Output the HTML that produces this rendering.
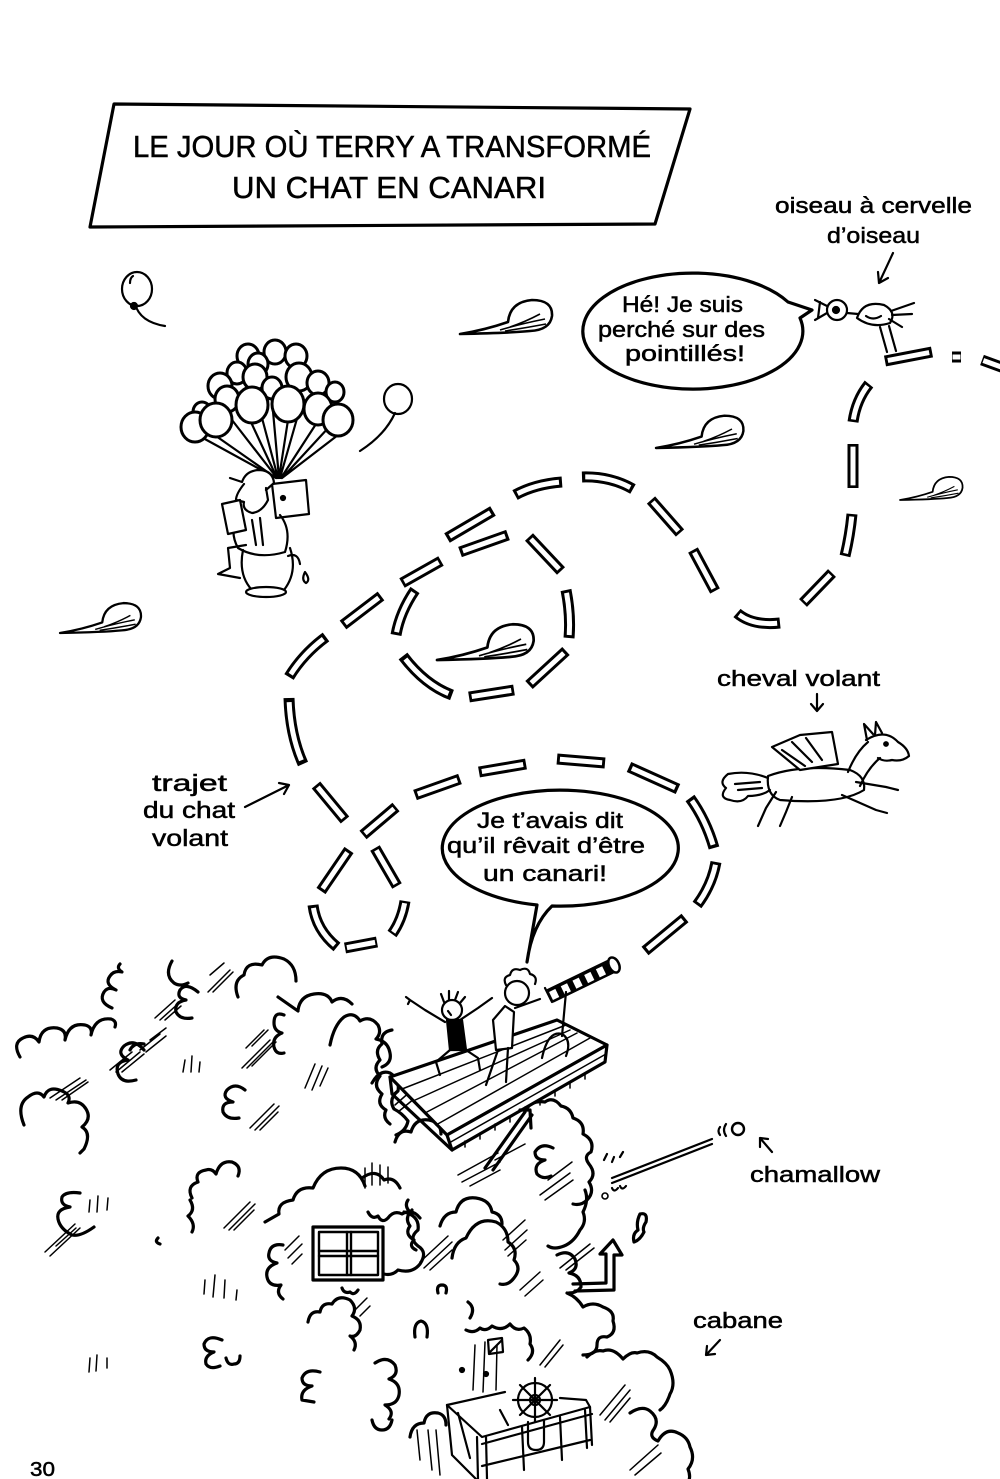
<!DOCTYPE html>
<html><head><meta charset="utf-8"><style>
html,body{margin:0;padding:0;background:#fff;}
svg{display:block;}
.t{fill:none;stroke:#000;stroke-width:3.2;stroke-linecap:round;stroke-linejoin:round}
.tf{fill:#fff;stroke:#000;stroke-width:3;stroke-linecap:round;stroke-linejoin:round}
.h{fill:none;stroke:#000;stroke-width:1.5;stroke-linecap:round}
.l{fill:none;stroke:#000;stroke-width:2.2;stroke-linecap:round;stroke-linejoin:round}
text{font-family:"Liberation Sans",sans-serif;fill:#000;stroke:#000;stroke-width:0.5;}
</style></head><body>
<svg width="1000" height="1479" viewBox="0 0 1000 1479" xmlns="http://www.w3.org/2000/svg">
<rect width="1000" height="1479" fill="#fff"/>
<defs>
<g id="dashes">
<path pathLength="100" d="M885,361 L932,352"/>
<path pathLength="100" d="M952,357 L961,357"/>
<path pathLength="100" d="M982,360 L1004,368"/>
<path pathLength="100" d="M869,384 Q856,400 853,422"/>
<path pathLength="100" d="M853,444 L853,488"/>
<path pathLength="100" d="M852,514 Q850,535 845,556"/>
<path pathLength="100" d="M832,573 L803,603"/>
<path pathLength="100" d="M737,613 Q752,626 780,623"/>
<path pathLength="100" d="M693,550 L715,591"/>
<path pathLength="100" d="M651,500 L680,533"/>
<path pathLength="100" d="M582,477 Q610,476 633,489"/>
<path pathLength="100" d="M515,495 Q535,484 562,482"/>
<path pathLength="100" d="M447,538 L493,511"/>
<path pathLength="100" d="M402,583 L441,561"/>
<path pathLength="100" d="M343,625 L381,596"/>
<path pathLength="100" d="M289,677 Q303,654 326,637"/>
<path pathLength="100" d="M289,698 Q290,735 303,764"/>
<path pathLength="100" d="M316,785 L345,820"/>
<path pathLength="100" d="M363,835 L396,807"/>
<path pathLength="100" d="M415,795 L460,779"/>
<path pathLength="100" d="M479,772 L526,764"/>
<path pathLength="100" d="M557,759 L605,763"/>
<path pathLength="100" d="M629,767 L678,789"/>
<path pathLength="100" d="M690,798 Q706,820 714,848"/>
<path pathLength="100" d="M716,862 Q712,885 697,905"/>
<path pathLength="100" d="M685,918 L645,951"/>
<path pathLength="100" d="M349,850 L321,891"/>
<path pathLength="100" d="M375,848 L397,886"/>
<path pathLength="100" d="M313,905 Q316,930 337,947"/>
<path pathLength="100" d="M345,948 L377,942"/>
<path pathLength="100" d="M405,901 Q402,920 392,934"/>
<path pathLength="100" d="M460,552 L508,535"/>
<path pathLength="100" d="M529,537 L561,571"/>
<path pathLength="100" d="M566,590 Q571,615 569,638"/>
<path pathLength="100" d="M566,651 L529,685"/>
<path pathLength="100" d="M469,697 L514,690"/>
<path pathLength="100" d="M403,656 Q425,685 452,695"/>
<path pathLength="100" d="M415,590 Q400,612 396,635"/>
</g>
<g id="feather">
<path d="M0,0 Q25,-4 48,-12 Q50,-32 72,-34 Q93,-34 92,-18 Q90,-4 70,-3 Q50,-1 0,0 Z" fill="#fff" stroke="#000" stroke-width="2.6" stroke-linejoin="round"/>
<path d="M40,-4 Q60,-10 85,-15 M45,-3 Q65,-6 86,-10 M50,-7 Q65,-12 80,-20" fill="none" stroke="#000" stroke-width="1.6"/>
</g>
</defs>

<!-- Title box -->
<path class="t" d="M114,104 L690,109 L655,224 L90,227 Z" stroke-width="3"/>
<text x="133" y="157" font-size="31" textLength="518" lengthAdjust="spacingAndGlyphs">LE JOUR OÙ TERRY A TRANSFORMÉ</text>
<text x="232" y="198" font-size="31" textLength="314" lengthAdjust="spacingAndGlyphs">UN CHAT EN CANARI</text>

<!-- labels -->
<text x="775" y="213" font-size="22" textLength="197" lengthAdjust="spacingAndGlyphs">oiseau à cervelle</text>
<text x="827" y="243" font-size="22" textLength="93" lengthAdjust="spacingAndGlyphs">d’oiseau</text>
<path class="l" d="M893,253 L879,283 M878,272 L879,283 L888,278"/>

<!-- bubble 1 -->
<path class="t" stroke-width="2.8" d="M788,302 A110,58 0 1,0 800,318 L812,310 Z" fill="#fff"/>
<text x="622" y="312" font-size="22" textLength="121" lengthAdjust="spacingAndGlyphs">Hé! Je suis</text>
<text x="598" y="337" font-size="22" textLength="167" lengthAdjust="spacingAndGlyphs">perché sur des</text>
<text x="625" y="361" font-size="22" textLength="120" lengthAdjust="spacingAndGlyphs">pointillés!</text>

<!-- bird -->
<g class="l" stroke-width="2.8">
<circle cx="837" cy="310" r="10" fill="#fff"/>
<circle cx="836" cy="310" r="3" fill="#000"/>
<path d="M827,306 L815,300 M827,313 L815,320 M820,302 L818,318"/>
<path d="M847,313 L858,314"/>
<path d="M857,318 Q863,300 884,305 Q897,312 890,323 Q872,329 857,318 Z" fill="#fff"/>
<path d="M866,316 Q873,321 881,316"/>
<path d="M891,311 L914,303 M892,315 L912,314 M889,319 L902,327"/>
<path d="M880,327 L887,352 M889,326 L896,351"/>
</g>

<!-- dashed trajectory -->
<use href="#dashes" fill="none" stroke="#000" stroke-width="11"/>
<use href="#dashes" fill="none" stroke="#fff" stroke-width="5" stroke-dasharray="0 6 88 100"/>

<!-- feathers -->
<use href="#feather" transform="translate(460,334)"/>
<use href="#feather" transform="translate(656,448) scale(0.95)"/>
<use href="#feather" transform="translate(900,500) scale(0.68)"/>
<use href="#feather" transform="translate(60,633) scale(0.88)"/>
<use href="#feather" transform="translate(437,660) scale(1.05)"/>

<!-- lone balloons -->
<g class="l" stroke-width="2.6">
<ellipse cx="137" cy="289" rx="15" ry="17" fill="#fff"/>
<path d="M130,283 Q130,278 133,276"/>
<path d="M135,304 Q140,322 165,326"/>
<circle cx="134" cy="306" r="3" fill="#000"/>
<ellipse cx="398" cy="399" rx="14" ry="15" fill="#fff"/>
<path d="M395,413 Q385,435 360,451"/>
</g>

<!-- balloon man -->
<g class="l" stroke-width="2">
<path d="M203,438 L276,478 M216,436 L276,478 M232,420 L277,478 M250,420 L277,478 M262,418 L278,478 M272,400 L279,478 M288,420 L279,478 M298,415 L280,478 M316,424 L281,478 M330,426 L282,478 M338,435 L282,478"/>
</g>
<g class="tf" stroke-width="2.6">
<ellipse cx="248" cy="356" rx="11" ry="12"/><ellipse cx="275" cy="352" rx="11" ry="12"/><ellipse cx="296" cy="356" rx="11" ry="12"/><ellipse cx="258" cy="364" rx="10" ry="11"/>
<ellipse cx="237" cy="373" rx="10" ry="11"/><ellipse cx="220" cy="386" rx="12" ry="13"/><ellipse cx="255" cy="377" rx="12" ry="13"/><ellipse cx="299" cy="377" rx="13" ry="14"/>
<ellipse cx="318" cy="383" rx="11" ry="12"/><ellipse cx="335" cy="392" rx="9" ry="10"/><ellipse cx="272" cy="388" rx="10" ry="11"/><ellipse cx="227" cy="399" rx="12" ry="13"/><ellipse cx="202" cy="412" rx="9" ry="10"/>
<ellipse cx="195" cy="427" rx="14" ry="15"/><ellipse cx="216" cy="420" rx="16" ry="17"/><ellipse cx="252" cy="405" rx="16" ry="18"/><ellipse cx="288" cy="404" rx="16" ry="18"/>
<ellipse cx="318" cy="409" rx="14" ry="16"/><ellipse cx="338" cy="420" rx="15" ry="16"/>
</g>
<g class="l" stroke-width="2.6">
<path d="M272,484 L306,480 L309,514 L276,518 Z" fill="#fff"/>
<circle cx="283" cy="498" r="2" fill="#000"/>
<path d="M230,478 L242,482 Q246,470 260,470 Q273,471 274,483 L266,490" fill="#fff"/>
<path d="M244,484 Q236,494 236,500 L244,502 Q242,510 252,513 Q262,512 268,500 L266,488"/>
<path d="M240,512 Q228,530 238,548 Q258,560 285,552 Q292,530 280,515"/>
<path d="M222,504 L240,500 L246,530 L228,534 Z" fill="#fff"/>
<path d="M252,520 L256,545 M260,518 L263,545"/>
<path d="M243,550 Q238,575 252,590 L284,590 Q298,572 290,548"/>
<ellipse cx="266" cy="592" rx="20" ry="5" fill="#fff"/>
<path d="M246,545 L228,548 L230,568 L218,574 L240,578"/>
<path d="M288,556 Q298,552 300,564"/>
<path d="M305,572 Q301,580 306,583 Q311,580 305,572 Z"/>
</g>

<!-- cheval -->
<text x="717" y="686" font-size="22" textLength="163" lengthAdjust="spacingAndGlyphs">cheval volant</text>
<path class="l" d="M817,694 L817,711 M811,704 L817,711 L823,704"/>
<g class="l" stroke-width="2.4">
<path d="M768,776 Q800,764 850,770 Q866,776 864,790 Q840,805 780,800 Q766,795 768,776 Z" fill="#fff"/>
<path d="M848,772 Q856,752 868,742 M860,786 Q868,768 880,758"/>
<path d="M866,740 Q885,728 898,742 Q908,748 909,756 Q902,762 892,760 Q884,762 878,758"/>
<path d="M867,740 L864,724 L873,734 M875,735 L876,722 L882,733"/>
<circle cx="886" cy="744" r="1.8" fill="#000"/>
<path d="M772,747 L800,735 L832,732 L838,764 L800,770 Z" fill="#fff"/>
<path d="M792,742 L812,762 M806,738 L822,760 M782,750 L805,766"/>
<path d="M856,782 L886,787 L898,790 M842,795 L876,810 L887,813"/>
<path d="M776,792 L766,808 L758,826 M792,797 L786,812 L780,826"/>
<path d="M768,778 Q748,770 728,774 Q718,782 726,788 Q718,798 730,800 Q742,804 748,796 Q762,796 770,790"/>
<path d="M735,784 L760,782 M738,790 L762,788"/>
</g>

<!-- trajet label -->
<text x="152" y="791" font-size="23" textLength="75" lengthAdjust="spacingAndGlyphs">trajet</text>
<text x="143" y="818" font-size="23" textLength="92" lengthAdjust="spacingAndGlyphs">du chat</text>
<text x="152" y="846" font-size="23" textLength="76" lengthAdjust="spacingAndGlyphs">volant</text>
<path class="l" d="M245,807 L289,785 M279,783 L289,785 L284,794"/>

<!-- bubble 2 -->
<path class="t" stroke-width="2.8" d="M552,906 A118,58 0 1,0 537,905 L527,962 Q532,925 552,906 Z" fill="#fff"/>
<text x="477" y="828" font-size="22" textLength="146" lengthAdjust="spacingAndGlyphs">Je t’avais dit</text>
<text x="447" y="853" font-size="22" textLength="198" lengthAdjust="spacingAndGlyphs">qu’il rêvait d’être</text>
<text x="483" y="881" font-size="22" textLength="124" lengthAdjust="spacingAndGlyphs">un canari!</text>

<!-- TREE bushes -->
<g class="t">
<path d="M20,1057 q-8,-14 3,-19 q10,-5 16,4 q2,-16 18,-14 q10,2 8,12 q4,-18 20,-15 q8,2 6,10 q4,-18 20,-16 q6,2 4,8"/>
<path d="M112,1008 q-14,-6 -8,-16 q4,-6 12,-2 q-12,-6 -6,-14 q4,-6 12,-4 q-6,-4 -2,-8"/>
<path d="M24,1125 q-8,-20 4,-28 q10,-8 16,0 q4,-12 18,-6 q10,4 6,12 q12,-4 18,6 q6,10 -4,18 q10,6 2,22 l-4,4"/>
<path d="M144,1050 q-10,-12 -20,-4 q-8,8 4,14 q-14,2 -10,14 q4,10 18,6"/>
<path d="M130,1050 q4,-8 14,-6"/>
<path d="M172,961 q-8,14 2,22 q6,4 14,0 M198,992 q-12,-10 -18,-2 q-4,8 6,10 q-12,2 -10,12 q4,8 16,6"/>
<path d="M238,997 q-6,-16 6,-22 q2,-14 18,-10 q6,-12 22,-6 q12,6 12,22"/>
<path d="M278,997 l20,14 M298,1010 q2,-14 16,-16 q14,-2 18,8 q10,-8 20,2"/>
<path d="M284,1015 q-10,-4 -10,8 q0,8 8,10 q-10,4 -8,14 q2,8 10,6"/>
<path d="M330,1045 q4,-20 14,-28 q10,-6 16,4 q10,-6 18,4 q4,8 -2,14 q12,2 14,14 q2,10 -8,14"/>
<path d="M372,1083 q8,-14 18,-10 q10,6 8,18 q-10,8 -4,18 q8,4 14,12 q-2,10 -12,14"/>
<path d="M245,1090 q-10,-8 -18,0 q-6,8 6,12 q-12,0 -10,10 q4,8 16,6"/>
<path d="M80,1193 q-14,-2 -18,4 q-2,8 8,10 q-14,2 -12,12 q2,10 14,16 q8,2 22,-8"/>
<path d="M192,1198 q-6,-12 6,-16 q-4,-10 8,-12 q6,-2 10,4 q4,-14 16,-12 q10,4 6,14"/>
<path d="M190,1200 q6,10 -2,16 q8,8 4,16"/>
<path d="M158,1238 q-4,4 2,6"/>
<path d="M265,1222 l14,-8 q-2,-12 14,-14 q4,-14 20,-12 q8,-20 28,-20 q18,0 24,18"/>
<path d="M362,1178 q14,-10 22,2 q10,-4 16,8"/>
<path d="M368,1212 q4,8 10,4 q4,8 10,2 q6,-8 14,-4 q10,-6 18,4"/>
<path d="M283,1245 q-12,-2 -14,8 q-2,8 8,10 q-12,4 -10,14 q2,10 14,8 q-6,8 2,14"/>
<path d="M404,1212 q16,4 14,18 q-10,8 0,16 q10,6 2,18 q-8,10 -22,6 q-6,6 -14,4"/>
<path d="M342,1288 q2,6 8,4 q4,4 8,-2"/>
<path d="M308,1322 q2,-12 12,-10 q2,-10 12,-8 q6,-10 18,-4 q8,8 2,16 q10,4 8,14 q-4,8 -10,6 q8,6 4,14"/>
<path d="M222,1340 q-14,-6 -18,4 q0,8 10,8 q-10,4 -8,12 q4,6 14,2 M226,1358 q2,8 8,6 q6,0 6,-8"/>
<path d="M320,1372 q-14,-4 -18,6 q0,8 10,8 q-12,4 -10,14 l12,2"/>
<path d="M415,1337 q-2,-14 6,-16 q8,2 6,16"/>
<path d="M438,1293 q-2,-8 4,-8 q6,0 4,8"/>
<path d="M375,1363 q12,-8 20,2 q4,10 -6,14 q12,4 10,16 q-2,10 -14,10 q10,6 4,14"/>
<path d="M410,1437 q2,-14 14,-14 q2,-12 14,-10 q8,2 8,12"/>
<path d="M392,1030 q-12,2 -10,14 q-8,6 -2,16 q-8,8 0,16 q-8,10 2,18 q-6,10 4,16 q-4,8 4,14"/>
<path d="M395,1142 q4,-14 16,-10 q4,-14 18,-12 q12,2 12,14"/>
<path d="M527,1108 q6,-8 18,-6 q8,-6 16,4 q10,2 12,12 q12,4 10,16 q12,6 8,18 q-8,4 -2,12 q8,10 0,18 q6,10 -2,18 q-6,6 -14,4"/>
<path d="M553,1148 q-12,-6 -18,4 q0,8 10,8 q-12,4 -8,14 q6,6 14,2"/>
<path d="M410,1212 q-6,-6 -2,-12 M412,1210 q-8,8 -2,16 q-6,8 4,14 q-6,6 2,10"/>
<path d="M440,1226 q4,-14 16,-14 q4,-16 20,-14 q14,2 16,14 q10,2 10,12"/>
<path d="M452,1258 q2,-16 14,-20 q10,-22 30,-16 q12,6 12,20 q10,6 6,18 q8,8 0,18 q-6,8 -14,6"/>
<path d="M557,1255 q12,-6 18,4 q4,10 -6,14 q12,2 12,14 q-4,6 -12,6"/>
<path d="M585,1190 q4,10 -2,22 q4,10 -3,18 q-6,12 -16,16 q-10,4 -16,0"/>
<path d="M567,1293 q10,4 16,14 q10,-6 20,0 q12,4 10,14 q4,12 -6,16 q-10,-2 -10,8 q0,10 -14,10"/>
<path d="M470,1318 q6,-10 -2,-16 M466,1330 q8,4 14,-2 q6,4 12,-2 q10,6 18,-2 q6,8 14,4 q8,6 6,16 q6,8 -2,16"/>
<path d="M587,1357 q8,-8 16,-6 q10,-4 20,8 q8,-8 14,-6 q12,-4 20,4 q10,6 13,13 q6,14 0,24 q-4,12 -10,16"/>
<path d="M630,1413 q12,-8 20,-2 q10,8 4,18 q-6,8 4,12 q8,-14 20,-8 q10,4 12,14 q6,12 -2,22 q4,10 -2,16"/>
<path d="M372,1420 q2,10 10,10 q8,0 10,-10"/>
</g>

<!-- window -->
<g class="t">
<rect x="313" y="1227" width="70" height="53" stroke-width="3.2" fill="#fff"/>
<rect x="319" y="1232" width="59" height="43" stroke-width="2.4"/>
<path d="M347,1232 L347,1275 M351,1232 L351,1275 M319,1251 L378,1251 M319,1256 L378,1256" stroke-width="2.4"/>
</g>

<!-- hatching -->
<g class="h">
<path d="M110,1070 l22,-18 M116,1072 l24,-20 M122,1072 l22,-18 M140,1050 l20,-16 M146,1052 l20,-16 M150,1040 l16,-12"/>
<path d="M155,1018 l20,-18 M160,1020 l20,-18 M165,1020 l16,-14"/>
<path d="M208,992 l22,-22 M213,992 l20,-20 M210,975 l14,-12"/>
<path d="M242,1068 l28,-28 M247,1068 l28,-28 M252,1066 l24,-24 M246,1048 l18,-18 M252,1046 l16,-16"/>
<path d="M250,1128 l24,-24 M255,1130 l24,-24 M260,1130 l18,-18"/>
<path d="M50,1098 l30,-20 M56,1100 l30,-20 M62,1100 l26,-18"/>
<path d="M45,1252 l30,-28 M50,1256 l30,-28 M56,1246 l20,-18"/>
<path d="M224,1228 l26,-26 M229,1230 l26,-26 M234,1230 l20,-20"/>
<path d="M392,1095 l28,-25 M395,1105 l25,-22 M398,1112 l22,-18"/>
<path d="M458,1175 l40,-22 M462,1182 l38,-20 M470,1186 l30,-16 M495,1160 l30,-16"/>
<path d="M540,1195 l30,-22 M545,1200 l28,-20 M548,1180 l24,-18"/>
<path d="M560,1268 l30,-24 M566,1270 l28,-22"/>
<path d="M305,1088 l10,-24 M312,1090 l10,-24 M320,1086 l8,-18"/>
<path d="M420,1262 l28,-26 M424,1268 l28,-26 M430,1270 l22,-20"/>
<path d="M503,1240 l22,-20 M505,1250 l22,-20 M508,1256 l18,-16"/>
<path d="M475,1345 l-2,45 M485,1342 l-2,50 M497,1345 l-1,45"/>
<path d="M540,1365 l20,-25 M545,1367 l18,-22"/>
<path d="M600,1415 l25,-30 M605,1420 l25,-30 M610,1422 l20,-24"/>
<path d="M630,1470 l28,-25 M635,1475 l26,-22"/>
<path d="M432,1470 l-4,-40 M440,1475 l-4,-45 M420,1460 l-3,-30"/>
<path d="M185,1060 l-2,12 M192,1056 l-1,16 M200,1062 l-1,10"/>
<path d="M90,1200 l-1,12 M98,1196 l-1,16 M108,1198 l-1,12"/>
<path d="M205,1280 l-1,14 M215,1275 l-2,22 M225,1280 l-1,18 M237,1290 l-1,10"/>
<path d="M90,1358 l-1,14 M97,1355 l-1,16 M107,1358 l0,10"/>
<path d="M365,1168 l0,20 M372,1163 l0,22 M380,1165 l0,20 M388,1167 l0,16"/>
<path d="M285,1250 l14,-14 M288,1258 l14,-14 M292,1264 l10,-10"/>
<path d="M355,1310 l12,-12 M360,1316 l10,-10"/>
<path d="M520,1290 l20,-18 M525,1296 l18,-16"/>
</g>

<!-- platform -->
<g class="t" stroke-width="3">
<path d="M390,1077 L557,1020 L607,1045 L447,1135 Z" fill="#fff"/>
<path d="M447,1135 L607,1045 L605,1062 L452,1150 Z" fill="#fff"/>
<path d="M390,1077 L392,1094 L452,1150"/>
</g>
<g class="h" stroke-width="1.8">
<path d="M402,1089 L566,1025 M413,1101 L570,1030 M425,1113 L577,1033 M436,1125 L590,1038"/>
<path d="M449,1143 L606,1054"/>
<path d="M465,1141 l0,6 M480,1133 l0,6 M495,1124 l0,6 M510,1116 l0,6 M525,1107 l0,6 M540,1099 l0,6 M555,1090 l0,6 M570,1082 l0,6 M585,1073 l0,6"/>
</g>
<path class="t" d="M525,1112 L485,1168 M532,1115 L493,1170 M520,1110 L530,1110 L531,1128"/>

<!-- kids -->
<g class="l" stroke-width="2.6">
<circle cx="452" cy="1010" r="10" fill="#fff"/>
<path d="M444,1002 l-3,-8 M449,1000 l0,-9 M455,1000 l3,-8 M460,1003 l5,-6"/>
<path d="M448,1011 l3,4"/>
<path d="M445,1022 L425,1010 L410,1000 M410,1000 l-4,-3 M410,1000 l-2,4"/>
<path d="M460,1020 L478,1008 L492,998"/>
<path d="M447,1020 L450,1050 L466,1050 L462,1020 Z" fill="#000"/>
<path d="M450,1050 L436,1062 L440,1075 M466,1050 L478,1058 L480,1070"/>
<circle cx="517" cy="993" r="12" fill="#fff"/>
<path d="M506,985 q-4,-8 4,-10 q2,-8 10,-5 q8,-4 10,4 q8,2 5,10"/>
<path d="M505,1006 L493,1020 L496,1050 L512,1048 L514,1012 Z" fill="#fff"/>
<path d="M515,1008 L540,999"/>
<path d="M498,1050 L486,1085 M508,1048 L506,1082"/>
</g>

<!-- telescope -->
<path d="M550,996 L614,965" stroke="#000" stroke-width="15" stroke-linecap="butt"/>
<path d="M551,996 L613,966" stroke="#fff" stroke-width="9" stroke-dasharray="7 6"/>
<ellipse cx="614" cy="965" rx="5" ry="8" transform="rotate(-26 614 965)" fill="#fff" stroke="#000" stroke-width="2.5"/>
<path class="l" d="M545,988 L552,1002 M566,992 L562,1036 M542,1058 Q548,1030 562,1034 Q572,1040 566,1056"/>

<!-- chamallow -->
<circle cx="738" cy="1129" r="6" fill="none" stroke="#000" stroke-width="2.4"/>
<path class="l" stroke-width="1.8" d="M726,1124 q-4,6 0,12 M720,1127 q-3,4 0,8 M612,1178 L712,1139 M612,1183 L712,1144 M604,1160 l3,-6 M612,1162 l2,-5 M620,1157 l3,-5"/>
<circle cx="605" cy="1196" r="3" fill="none" stroke="#000" stroke-width="1.6"/>
<path class="l" stroke-width="1.6" d="M612,1188 q2,5 6,0 M620,1186 q2,5 6,0"/>
<path class="l" d="M772,1152 L760,1138 M760,1147 L760,1138 L768,1139"/>
<text x="750" y="1182" font-size="22" textLength="130" lengthAdjust="spacingAndGlyphs">chamallow</text>

<!-- up arrow -->
<path class="t" stroke-width="2.6" d="M573,1284 L606,1283 L606,1254 L600,1254 L613,1240 L622,1255 L614,1255 L614,1290 L575,1291"/>
<path class="t" stroke-width="2.6" d="M640,1214 q8,-2 6,8 q-4,6 -2,10 q-4,8 -10,10 q-2,-8 4,-12 q-2,-8 2,-16"/>

<!-- cabane -->
<text x="693" y="1328" font-size="22" textLength="90" lengthAdjust="spacingAndGlyphs">cabane</text>
<path class="l" d="M720,1340 L706,1355 M707,1346 L706,1355 L715,1354"/>
<g class="l" stroke-width="2.6">
<path d="M447,1405 L505,1392 M447,1405 L482,1437 L590,1407 L586,1400 L560,1398"/>
<path d="M482,1444 L592,1414 M486,1437 L487,1479 M477,1437 L478,1479 M447,1405 L452,1455 L476,1479 M590,1407 L592,1445 M585,1410 L587,1448 M560,1417 L562,1460 M522,1427 L524,1470 M482,1466 L590,1440"/>
<circle cx="535" cy="1400" r="17" fill="none"/>
<circle cx="535" cy="1400" r="5" fill="none"/>
<path d="M535,1378 L535,1422 M513,1400 L557,1400 M520,1385 L550,1415 M550,1385 L520,1415"/>
<path d="M528,1422 l0,20 q0,8 8,8 q8,0 8,-8 l0,-22"/>
<path d="M458,1413 L470,1458 M500,1410 L508,1425"/>
<path d="M488,1340 L502,1338 L503,1352 L489,1354 Z M490,1352 L502,1340"/>
<circle cx="462" cy="1370" r="2" fill="#000"/>
<circle cx="486" cy="1374" r="2" fill="#000"/>
</g>

<text x="30" y="1476" font-size="20" textLength="25" lengthAdjust="spacingAndGlyphs">30</text>
</svg>
</body></html>
